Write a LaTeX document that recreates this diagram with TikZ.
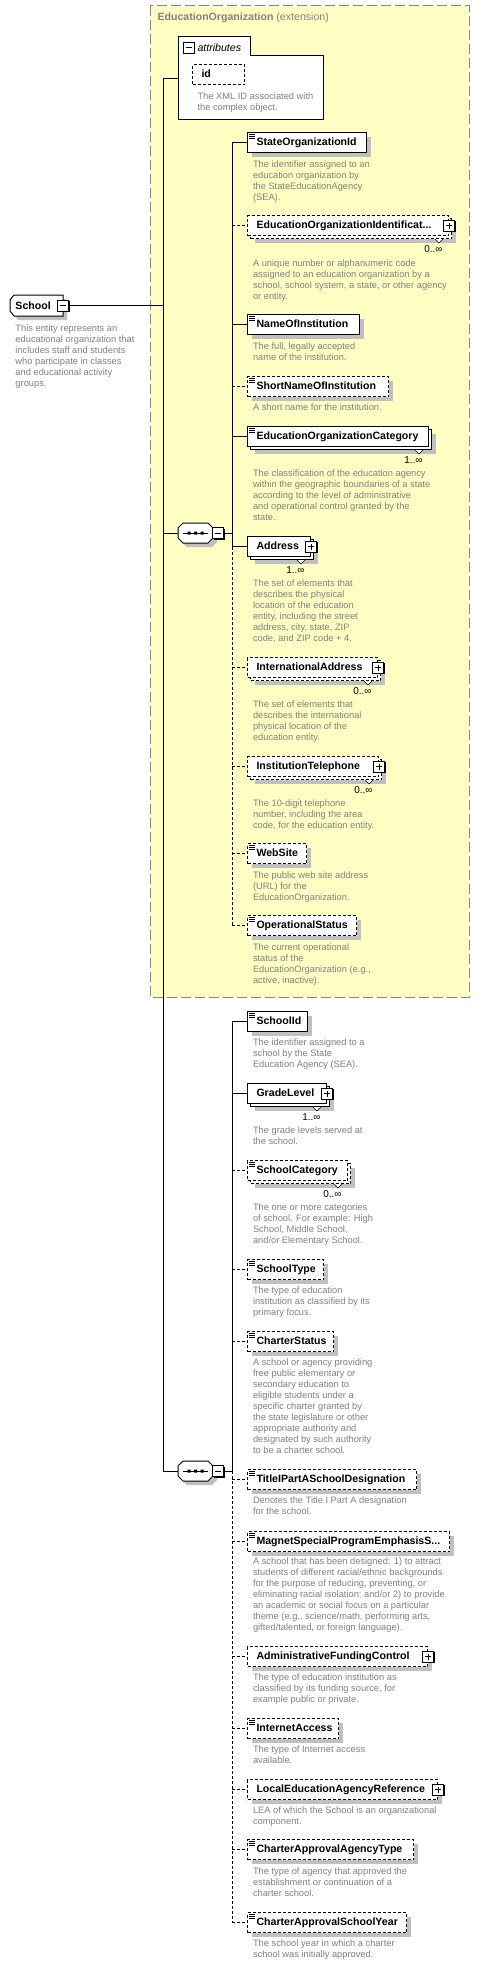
\documentclass[tikz,border=0pt]{standalone}
\usepackage{fontspec}
\setmainfont{Liberation Sans}
\usetikzlibrary{calc,shadows}
\definecolor{extyellow}{RGB}{255,255,196}
\definecolor{extborder}{RGB}{136,136,136}
\definecolor{descgray}{RGB}{128,128,128}
\definecolor{shadowgray}{RGB}{192,192,192}
\hyphenpenalty=10000
\exhyphenpenalty=10000

\begin{document}
\begin{tikzpicture}[x=1pt,y=1pt,yscale=-1,line width=1pt,
	elem/.style={draw, fill=white, anchor=north west, minimum height=20pt, inner xsep=9pt, inner ysep=0pt, align=left, text height=8pt, text depth=2.5pt, font=\fontsize{10.6pt}{12pt}\selectfont\bfseries},
	optelem/.style={elem, dash pattern=on 3pt off 2pt},
	shad/.style={general shadow={fill=shadowgray, shadow xshift=4pt, shadow yshift=-4pt}},
	desc/.style={anchor=north west, inner sep=0pt, align=left, text=descgray, font=\fontsize{9.3pt}{11pt}\selectfont},
	mult/.style={anchor=east, inner sep=0pt, font=\fontsize{10pt}{12pt}\selectfont},
	tog/.style={draw, fill=white, minimum size=11pt, inner sep=0pt, line width=0.9pt, general shadow={fill=black, shadow xshift=1pt, shadow yshift=-1pt}},
	plusbox/.style={tog, path picture={\draw[shorten >=2.5pt, shorten <=2.5pt] (path picture bounding box.west) -- (path picture bounding box.east); \draw[shorten >=2.5pt, shorten <=2.5pt] (path picture bounding box.north) -- (path picture bounding box.south);}},
	minusbox/.style={tog, path picture={\draw[shorten >=2.5pt, shorten <=2.5pt] (path picture bounding box.west) -- (path picture bounding box.east);}},
	optline/.style={dash pattern=on 3pt off 2pt},
	notch/.style={fill=white, line width=0.6pt},
	icon/.style={line width=0.7pt}]
	\useasboundingbox (0,0) rectangle (480,1965);
	
	%Shape: Rectangle (extension)
	\draw [draw=extborder, fill=extyellow, dash pattern=on 10pt off 4pt] (150,5.5) rectangle (469,997);
	% Text Node
	\node [anchor=west, inner sep=0pt, text=descgray, font=\fontsize{10.6pt}{12pt}\selectfont] (extT) at (157,18) {\textbf{EducationOrganization} (extension)};
	
	%Shape: attributes
	\draw [fill=white] (178,119) -- (178,36) -- (250,36) -- (250,55) -- (323,55) -- (323,119) -- cycle;
	\node [minusbox] (attrM) at (188.5,47.5) {};
	\node [anchor=west, inner sep=0pt, font=\fontsize{10.6pt}{12pt}\selectfont\itshape] (attrL) at (197,47.5) {attributes};
	\coordinate (attrs) at (178,78);
	\node [optelem, text width=34pt] (id) at (192,64) {id};
	\node [desc] (idD) at (197,92) {The XML ID associated with\\the complex object.};
	
	%Shape: School
	\draw [fill=white, shad] (10,300) -- (14,295) -- (63,295) -- (63,316) -- (14,316) -- (10,311) -- cycle;
	\node [anchor=west, inner sep=0pt, font=\fontsize{10.6pt}{12pt}\selectfont\bfseries] (school) at (15,305.5) {School};
	\node [minusbox] (schoolM) at (63,305.5) {};
	\node [desc] (schoolD) at (15,324) {This entity represents an\\educational organization that\\includes staff and students\\who participate in classes\\and educational activity\\groups.};
	
	%Shape: sequence A
	\draw [fill=white, shad] (178,528) -- (183,523) -- (208,523) -- (213,528) -- (213,538) -- (208,543) -- (183,543) -- (178,538) -- cycle;
	\draw (183,533) -- (208,533);
	\fill (187.5,531.5) rectangle +(3,3) (194,531.5) rectangle +(3,3) (200.5,531.5) rectangle +(3,3);
	\coordinate (seqA) at (178,533);
	\node [minusbox] (seqAM) at (218,533) {};
	\coordinate (spA) at (232,533);
	
	%Shape: sequence B
	\draw [fill=white, shad] (178,1466) -- (183,1461) -- (208,1461) -- (213,1466) -- (213,1476) -- (208,1481) -- (183,1481) -- (178,1476) -- cycle;
	\draw (183,1471) -- (208,1471);
	\fill (187.5,1469.5) rectangle +(3,3) (194,1469.5) rectangle +(3,3) (200.5,1469.5) rectangle +(3,3);
	\coordinate (seqB) at (178,1471);
	\node [minusbox] (seqBM) at (218,1471) {};
	\coordinate (spB) at (232,1471);
	
	%Straight Lines (main spine)
	\coordinate (spM) at (163,305.5);
	\draw (spM |- attrs) -- (spM |- seqB);
	\draw (schoolM.east) -- (spM);
	\draw (spM |- attrs) -- (attrs);
	\draw (spM |- seqA) -- (seqA);
	\draw (spM |- seqB) -- (seqB);
	\draw (seqAM.east) -- (spA);
	\draw (seqBM.east) -- (spB);
	
	% Elements of sequence A
	\node [elem, shad, text width=101pt] (soi) at (247,132) {StateOrganizationId};
	\node [desc] (soiD) at (252.5,160.5) {The identifier assigned to an\\education organization by\\the StateEducationAgency\\(SEA).};
	
	\node [optelem, shad, text width=183pt] (eoidB) at (250,218) {};
	\node [optelem, text width=183pt] (eoid) at (247,215) {EducationOrganizationIdentificat...};
	\draw [notch] ($(eoidB.south east)+(-17,0)$) -- ++(4,4) -- ++(4,-4);
	\node [plusbox] (eoidP) at (eoid.east) {};
	\node [mult] (eoidN) at ($(eoidB.south east)+(-9,10)$) {0..∞};
	\node [desc] (eoidD) at (252.5,259.5) {A unique number or alphanumeric code\\assigned to an education organization by a\\school, school system, a state, or other agency\\or entity.};
	
	\node [elem, shad, text width=94pt] (noi) at (247,314) {NameOfInstitution};
	\node [desc] (noiD) at (252.5,342.5) {The full, legally accepted\\name of the institution.};
	
	\node [optelem, shad, text width=123pt] (snoi) at (247,376) {ShortNameOfInstitution};
	\node [desc] (snoiD) at (252.5,403.5) {A short name for the institution.};
	
	\node [elem, shad, text width=163pt] (eocB) at (250,429) {};
	\node [elem, text width=163pt] (eoc) at (247,426) {EducationOrganizationCategory};
	\draw [notch] ($(eocB.south east)+(-17,0)$) -- ++(4,4) -- ++(4,-4);
	\node [mult] (eocN) at ($(eocB.south east)+(-9,10)$) {1..∞};
	\node [desc] (eocD) at (252.5,469.5) {The classification of the education agency\\within the geographic boundaries of a state\\according to the level of administrative\\and operational control granted by the\\state.};
	
	\node [elem, shad, text width=45pt] (addrB) at (250,539) {};
	\node [elem, text width=45pt] (addr) at (247,536) {Address};
	\draw [notch] ($(addrB.south east)+(-17,0)$) -- ++(4,4) -- ++(4,-4);
	\node [plusbox] (addrP) at (addr.east) {};
	\node [mult] (addrN) at ($(addrB.south east)+(-9,10)$) {1..∞};
	\node [desc] (addrD) at (252.5,579.5) {The set of elements that\\describes the physical\\location of the education\\entity, including the street\\address, city, state, ZIP\\code, and ZIP code + 4.};
	
	\node [optelem, shad, text width=112pt] (intlB) at (250,660) {};
	\node [optelem, text width=112pt] (intl) at (247,657) {InternationalAddress};
	\draw [notch] ($(intlB.south east)+(-17,0)$) -- ++(4,4) -- ++(4,-4);
	\node [plusbox] (intlP) at (intl.east) {};
	\node [mult] (intlN) at ($(intlB.south east)+(-9,10)$) {0..∞};
	\node [desc] (intlD) at (252.5,700) {The set of elements that\\describes the international\\physical location of the\\education entity.};
	
	\node [optelem, shad, text width=113pt] (telB) at (250,759) {};
	\node [optelem, text width=113pt] (tel) at (247,756) {InstitutionTelephone};
	\draw [notch] ($(telB.south east)+(-17,0)$) -- ++(4,4) -- ++(4,-4);
	\node [plusbox] (telP) at (tel.east) {};
	\node [mult] (telN) at ($(telB.south east)+(-9,10)$) {0..∞};
	\node [desc] (telD) at (252.5,799) {The 10-digit telephone\\number, including the area\\code, for the education entity.};
	
	\node [optelem, shad, text width=41pt] (web) at (247,843) {WebSite};
	\node [desc] (webD) at (252.5,871) {The public web site address\\(URL) for the\\EducationOrganization.};
	
	\node [optelem, shad, text width=91pt] (ops) at (247,915) {OperationalStatus};
	\node [desc] (opsD) at (252.5,943) {The current operational\\status of the\\EducationOrganization (e.g.,\\active, inactive).};
	
	% Elements of sequence B
	\node [elem, shad, text width=42pt] (sid) at (247,1011) {SchoolId};
	\node [desc] (sidD) at (252.5,1038) {The identifier assigned to a\\school by the State\\Education Agency (SEA).};
	
	\node [elem, shad, text width=61pt] (gradeB) at (250,1086) {};
	\node [elem, text width=61pt] (grade) at (247,1083) {GradeLevel};
	\draw [notch] ($(gradeB.south east)+(-17,0)$) -- ++(4,4) -- ++(4,-4);
	\node [plusbox] (gradeP) at (grade.east) {};
	\node [mult] (gradeN) at ($(gradeB.south east)+(-9,10)$) {1..∞};
	\node [desc] (gradeD) at (252.5,1126) {The grade levels served at\\the school.};
	
	\node [optelem, shad, text width=82pt] (scatB) at (250,1163) {};
	\node [optelem, text width=82pt] (scat) at (247,1160) {SchoolCategory};
	\draw [notch] ($(scatB.south east)+(-17,0)$) -- ++(4,4) -- ++(4,-4);
	\node [mult] (scatN) at ($(scatB.south east)+(-9,10)$) {0..∞};
	\node [desc] (scatD) at (252.5,1203) {The one or more categories\\of school. For example: High\\School, Middle School,\\and/or Elementary School.};
	
	\node [optelem, shad, text width=58pt] (stype) at (247,1259) {SchoolType};
	\node [desc] (stypeD) at (252.5,1286) {The type of education\\institution as classified by its\\primary focus.};
	
	\node [optelem, shad, text width=68pt] (chst) at (247,1331) {CharterStatus};
	\node [desc] (chstD) at (252.5,1358) {A school or agency providing\\free public elementary or\\secondary education to\\eligible students under a\\specific charter granted by\\the state legislature or other\\appropriate authority and\\designated by such authority\\to be a charter school.};
	
	\node [optelem, shad, text width=151pt] (title) at (247,1469) {TitleIPartASchoolDesignation};
	\node [desc] (titleD) at (252.5,1496) {Denotes the Title I Part A designation\\for the school.};
	
	\node [optelem, shad, text width=184pt] (magnet) at (247,1531) {MagnetSpecialProgramEmphasisS...};
	\node [desc] (magnetD) at (252.5,1557) {A school that has been designed: 1) to attract\\students of different racial/ethnic backgrounds\\for the purpose of reducing, preventing, or\\eliminating racial isolation; and/or 2) to provide\\an academic or social focus on a particular\\theme (e.g., science/math, performing arts,\\gifted/talented, or foreign language).};
	
	\node [optelem, shad, text width=162pt] (afc) at (247,1646) {AdministrativeFundingControl};
	\node [plusbox] (afcP) at (afc.east) {};
	\node [desc] (afcD) at (252.5,1673) {The type of education institution as\\classified by its funding source, for\\example public or private.};
	
	\node [optelem, shad, text width=73pt] (inet) at (247,1718) {InternetAccess};
	\node [desc] (inetD) at (252.5,1745) {The type of Internet access\\available.};
	
	\node [optelem, shad, text width=172pt] (lea) at (247,1779) {LocalEducationAgencyReference};
	\node [plusbox] (leaP) at (lea.east) {};
	\node [desc] (leaD) at (252.5,1806) {LEA of which the School is an organizational\\component.};
	
	\node [optelem, shad, text width=148pt] (caat) at (247,1839) {CharterApprovalAgencyType};
	\node [desc] (caatD) at (252.5,1867) {The type of agency that approved the\\establishment or continuation of a\\charter school.};
	
	\node [optelem, shad, text width=141pt] (casy) at (247,1912) {CharterApprovalSchoolYear};
	\node [desc] (casyD) at (252.5,1939) {The school year in which a charter\\school was initially approved.};
	
	% Simple type marks
	\draw [icon] ($(soi.north west)+(2,2.5)$) -- +(5.5,0) ($(soi.north west)+(2,4.2)$) -- +(5.5,0) ($(soi.north west)+(2,5.9)$) -- +(5.5,0);
	\draw [icon] ($(noi.north west)+(2,2.5)$) -- +(5.5,0) ($(noi.north west)+(2,4.2)$) -- +(5.5,0) ($(noi.north west)+(2,5.9)$) -- +(5.5,0);
	\draw [icon] ($(snoi.north west)+(2,2.5)$) -- +(5.5,0) ($(snoi.north west)+(2,4.2)$) -- +(5.5,0) ($(snoi.north west)+(2,5.9)$) -- +(5.5,0);
	\draw [icon] ($(eoc.north west)+(2,2.5)$) -- +(5.5,0) ($(eoc.north west)+(2,4.2)$) -- +(5.5,0) ($(eoc.north west)+(2,5.9)$) -- +(5.5,0);
	\draw [icon] ($(web.north west)+(2,2.5)$) -- +(5.5,0) ($(web.north west)+(2,4.2)$) -- +(5.5,0) ($(web.north west)+(2,5.9)$) -- +(5.5,0);
	\draw [icon] ($(ops.north west)+(2,2.5)$) -- +(5.5,0) ($(ops.north west)+(2,4.2)$) -- +(5.5,0) ($(ops.north west)+(2,5.9)$) -- +(5.5,0);
	\draw [icon] ($(sid.north west)+(2,2.5)$) -- +(5.5,0) ($(sid.north west)+(2,4.2)$) -- +(5.5,0) ($(sid.north west)+(2,5.9)$) -- +(5.5,0);
	\draw [icon] ($(scat.north west)+(2,2.5)$) -- +(5.5,0) ($(scat.north west)+(2,4.2)$) -- +(5.5,0) ($(scat.north west)+(2,5.9)$) -- +(5.5,0);
	\draw [icon] ($(stype.north west)+(2,2.5)$) -- +(5.5,0) ($(stype.north west)+(2,4.2)$) -- +(5.5,0) ($(stype.north west)+(2,5.9)$) -- +(5.5,0);
	\draw [icon] ($(chst.north west)+(2,2.5)$) -- +(5.5,0) ($(chst.north west)+(2,4.2)$) -- +(5.5,0) ($(chst.north west)+(2,5.9)$) -- +(5.5,0);
	\draw [icon] ($(title.north west)+(2,2.5)$) -- +(5.5,0) ($(title.north west)+(2,4.2)$) -- +(5.5,0) ($(title.north west)+(2,5.9)$) -- +(5.5,0);
	\draw [icon] ($(magnet.north west)+(2,2.5)$) -- +(5.5,0) ($(magnet.north west)+(2,4.2)$) -- +(5.5,0) ($(magnet.north west)+(2,5.9)$) -- +(5.5,0);
	\draw [icon] ($(inet.north west)+(2,2.5)$) -- +(5.5,0) ($(inet.north west)+(2,4.2)$) -- +(5.5,0) ($(inet.north west)+(2,5.9)$) -- +(5.5,0);
	\draw [icon] ($(caat.north west)+(2,2.5)$) -- +(5.5,0) ($(caat.north west)+(2,4.2)$) -- +(5.5,0) ($(caat.north west)+(2,5.9)$) -- +(5.5,0);
	\draw [icon] ($(casy.north west)+(2,2.5)$) -- +(5.5,0) ($(casy.north west)+(2,4.2)$) -- +(5.5,0) ($(casy.north west)+(2,5.9)$) -- +(5.5,0);
	
	%Straight Lines (sequence A)
	\draw (spA |- soi.west) -- (spA |- addr.west);
	\draw [optline] (spA |- addr.west) -- (spA |- ops.west);
	\draw (spA |- soi.west) -- (soi.west);
	\draw [optline] (spA |- eoid.west) -- (eoid.west);
	\draw (spA |- noi.west) -- (noi.west);
	\draw [optline] (spA |- snoi.west) -- (snoi.west);
	\draw (spA |- eoc.west) -- (eoc.west);
	\draw (spA |- addr.west) -- (addr.west);
	\draw [optline] (spA |- intl.west) -- (intl.west);
	\draw [optline] (spA |- tel.west) -- (tel.west);
	\draw [optline] (spA |- web.west) -- (web.west);
	\draw [optline] (spA |- ops.west) -- (ops.west);
	
	%Straight Lines (sequence B)
	\draw (spB |- sid.west) -- (spB);
	\draw [optline] (spB) -- (spB |- casy.west);
	\draw (spB |- sid.west) -- (sid.west);
	\draw (spB |- grade.west) -- (grade.west);
	\draw [optline] (spB |- scat.west) -- (scat.west);
	\draw [optline] (spB |- stype.west) -- (stype.west);
	\draw [optline] (spB |- chst.west) -- (chst.west);
	\draw [optline] (spB |- title.west) -- (title.west);
	\draw [optline] (spB |- magnet.west) -- (magnet.west);
	\draw [optline] (spB |- afc.west) -- (afc.west);
	\draw [optline] (spB |- inet.west) -- (inet.west);
	\draw [optline] (spB |- lea.west) -- (lea.west);
	\draw [optline] (spB |- caat.west) -- (caat.west);
	\draw [optline] (spB |- casy.west) -- (casy.west);
\end{tikzpicture}
\end{document}
